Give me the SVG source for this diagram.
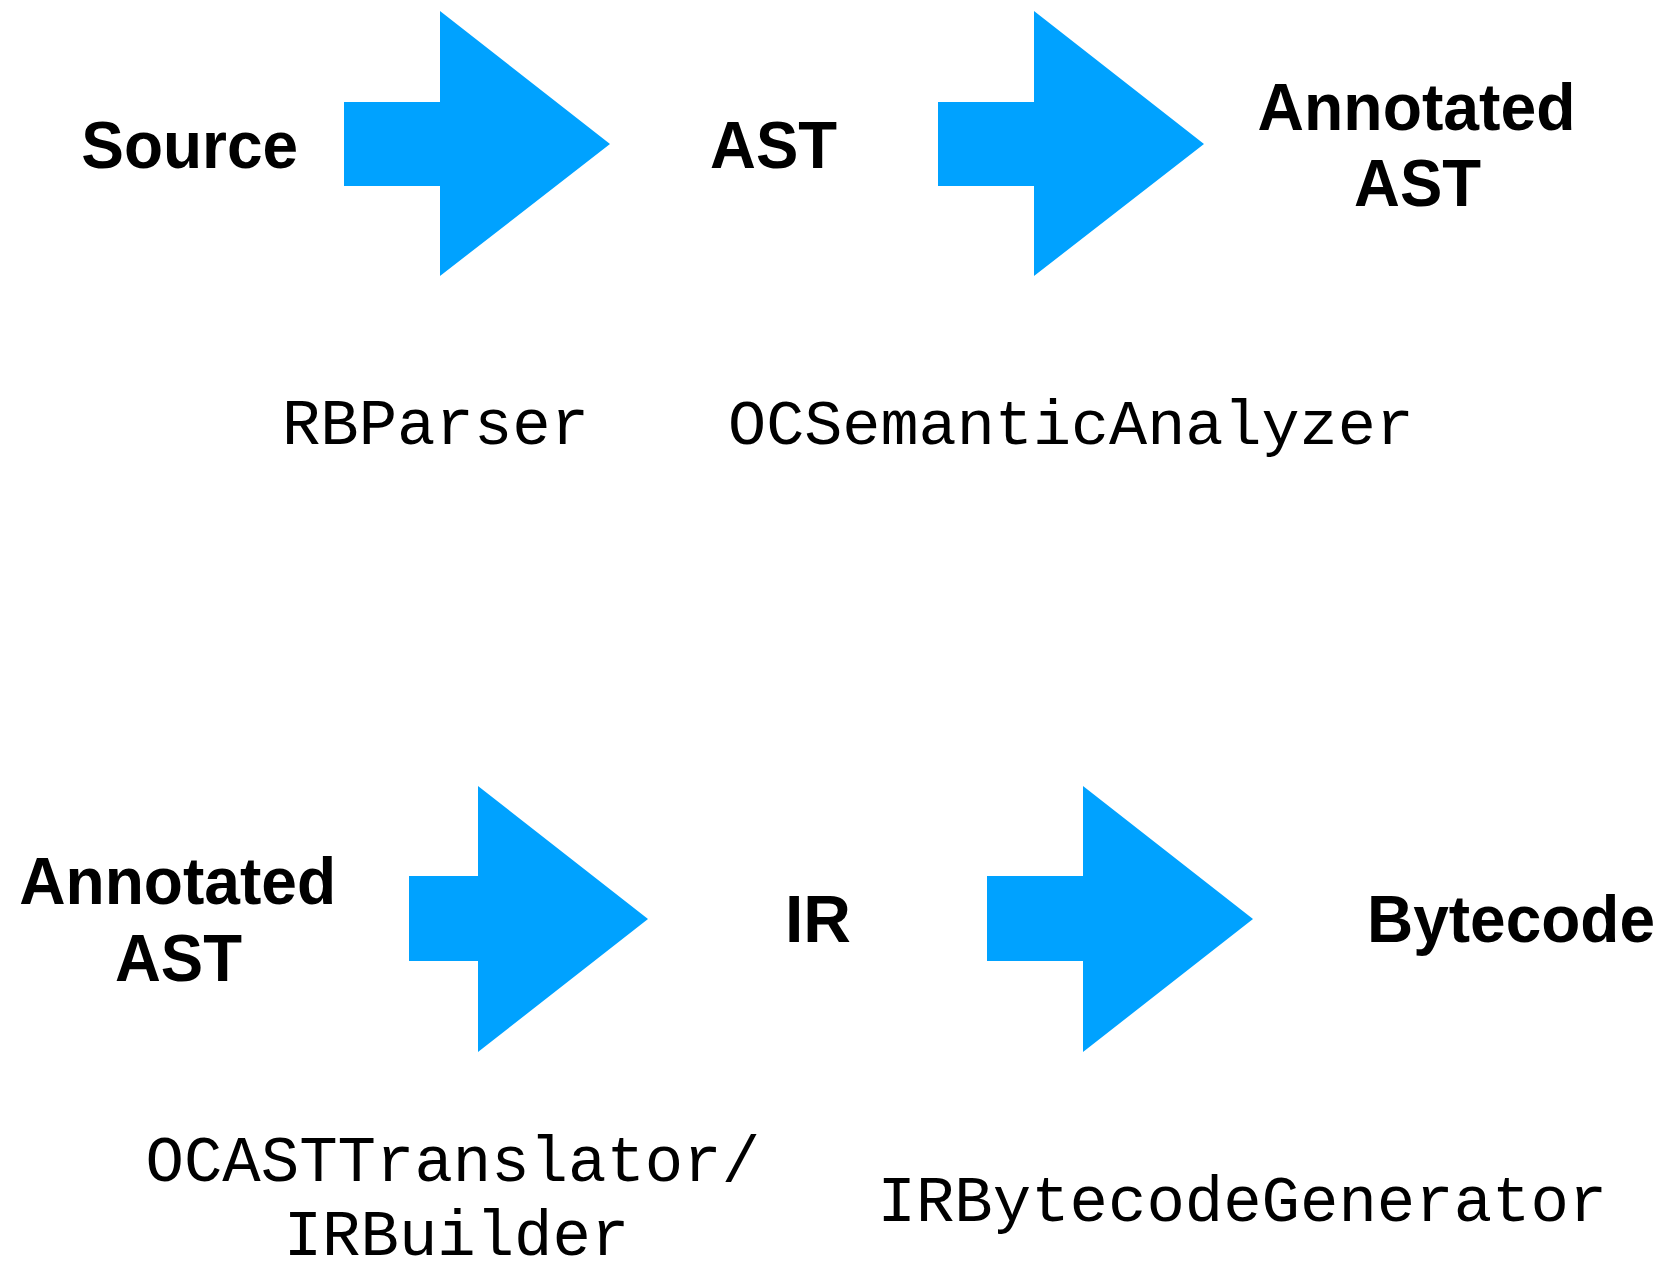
<svg xmlns="http://www.w3.org/2000/svg" width="1665" height="1264" viewBox="0 0 1665 1264">
<style>
.lbl{font-family:"Liberation Sans",Arial,sans-serif;font-weight:bold;font-size:66px;fill:#000;text-anchor:middle}
.code{font-family:"Liberation Mono","Courier New",monospace;font-size:64px;fill:#000;text-anchor:middle}
.arr{fill:#00A2FF}
</style>
<rect width="1665" height="1264" fill="#fff"/>
<g id="connectors">
<polygon class="arr" points="344,102 440,102 440,11 610,144 440,276 440,186 344,186"/>
<polygon class="arr" points="938,102 1034,102 1034,11 1204,144 1034,276 1034,186 938,186"/>
<polygon class="arr" points="409,876 478,876 478,786 648,919 478,1052 478,961 409,961"/>
<polygon class="arr" points="987,876 1083,876 1083,786 1253,919 1083,1052 1083,961 987,961"/>
</g>
<g id="source"><text class="lbl" x="189.7" y="168" textLength="217" lengthAdjust="spacingAndGlyphs">Source</text></g>
<g id="ast"><text class="lbl" x="773.6" y="168" textLength="127" lengthAdjust="spacingAndGlyphs">AST</text></g>
<g id="annotated-ast-top">
<text class="lbl" x="1416.6" y="130" textLength="318" lengthAdjust="spacingAndGlyphs">Annotated</text>
<text class="lbl" x="1417.6" y="206.4" textLength="127" lengthAdjust="spacingAndGlyphs">AST</text>
</g>
<g id="rbparser"><text class="code" x="435.5" y="444">RBParser</text></g>
<g id="ocsemanticanalyzer"><text class="code" x="1071" y="444" style="font-size:63.5px">OCSemanticAnalyzer</text></g>
<g id="annotated-ast-bottom">
<text class="lbl" x="177.7" y="904" textLength="317" lengthAdjust="spacingAndGlyphs">Annotated</text>
<text class="lbl" x="178.5" y="980.6" textLength="127" lengthAdjust="spacingAndGlyphs">AST</text>
</g>
<g id="ir"><text class="lbl" x="818" y="942.4" textLength="66" lengthAdjust="spacingAndGlyphs">IR</text></g>
<g id="bytecode"><text class="lbl" x="1511" y="942.4" textLength="288" lengthAdjust="spacingAndGlyphs">Bytecode</text></g>
<g id="ocasttranslator">
<text class="code" x="452.8" y="1181">OCASTTranslator/</text>
<text class="code" x="456.5" y="1255">IRBuilder</text>
</g>
<g id="irbytecodegenerator"><text class="code" x="1242.4" y="1220.5">IRBytecodeGenerator</text></g>
</svg>
